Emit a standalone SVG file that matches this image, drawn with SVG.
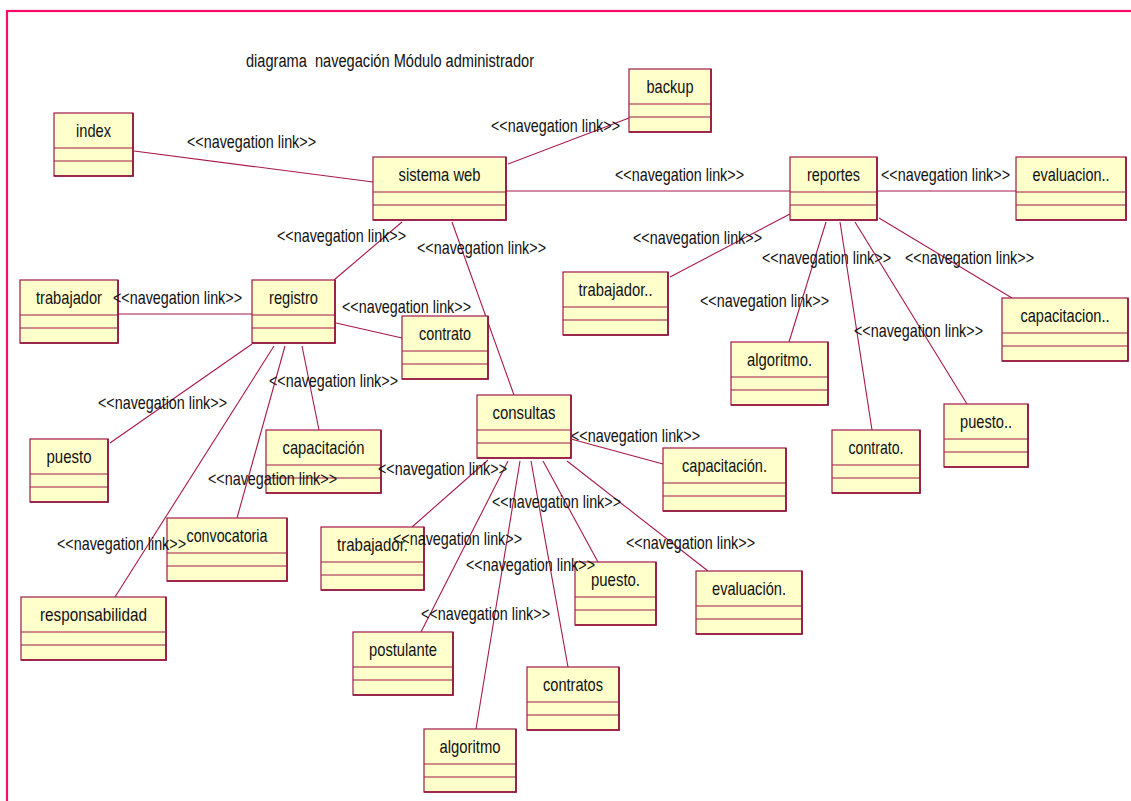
<svg xmlns="http://www.w3.org/2000/svg" width="1131" height="801" viewBox="0 0 1131 801">
  <style>
    .frame { fill: none; stroke: #FF0A6C; stroke-width: 2.2; }
    .box { fill: #FFFFCC; stroke: #A01848; stroke-width: 1.2; }
    .edge { stroke: #8E0F3A; stroke-width: 1.6; fill: none; }
    .sep { stroke: #A01848; stroke-width: 1.2; }
    .name { font-family: "Liberation Sans", Arial, sans-serif; font-size: 18.5px; fill: #111; text-anchor: middle; }
    .link { stroke: #A8184C; stroke-width: 1.1; fill: none; }
    .lbl { font-family: "Liberation Sans", Arial, sans-serif; font-size: 18.5px; fill: #111; }
    .title { font-family: "Liberation Sans", Arial, sans-serif; font-size: 18px; fill: #111; white-space: pre; }
  </style>

  <rect width="1131" height="801" fill="#FFFFFF"/>
  <rect class="frame" x="7" y="11" width="1140" height="810"/>

  <text class="title" x="246" y="67" textLength="288" lengthAdjust="spacingAndGlyphs">diagrama  navegación Módulo administrador</text>

  <!-- connectors -->
  <g id="connectors">
    <!-- sistema web -->
    <line class="link" x1="134" y1="151" x2="373" y2="182"/>
    <line class="link" x1="508" y1="164" x2="629" y2="118"/>
    <line class="link" x1="506" y1="191" x2="790" y2="191"/>
    <line class="link" x1="402" y1="222" x2="334" y2="280"/>
    <line class="link" x1="452" y1="222" x2="514" y2="395"/>
    <!-- reportes -->
    <line class="link" x1="877" y1="191" x2="1016" y2="191"/>
    <line class="link" x1="790" y1="214" x2="670" y2="277"/>
    <line class="link" x1="826" y1="222" x2="789" y2="342"/>
    <line class="link" x1="840" y1="222" x2="872" y2="430"/>
    <line class="link" x1="855" y1="222" x2="967" y2="404"/>
    <line class="link" x1="879" y1="218" x2="1012" y2="298"/>
    <!-- registro -->
    <line class="link" x1="118" y1="314" x2="252" y2="314"/>
    <line class="link" x1="336" y1="323" x2="402" y2="338"/>
    <line class="link" x1="252" y1="344" x2="110" y2="443"/>
    <line class="link" x1="274" y1="346" x2="115" y2="597"/>
    <line class="link" x1="285" y1="346" x2="237" y2="518"/>
    <line class="link" x1="302" y1="346" x2="319" y2="430"/>
    <!-- consultas -->
    <line class="link" x1="571" y1="439" x2="663" y2="464"/>
    <line class="link" x1="488" y1="460" x2="412" y2="527"/>
    <line class="link" x1="508" y1="461" x2="421" y2="632"/>
    <line class="link" x1="520" y1="461" x2="476" y2="729"/>
    <line class="link" x1="531" y1="461" x2="568" y2="667"/>
    <line class="link" x1="543" y1="461" x2="598" y2="562"/>
    <line class="link" x1="567" y1="461" x2="708" y2="571"/>
  </g>

  <!-- class boxes: name compartment (35px) + two empty compartments -->
  <g id="index">
    <rect class="box" x="54" y="113" width="79" height="63"/>
    <line class="sep" x1="54" y1="148" x2="133" y2="148"/><line class="sep" x1="54" y1="161" x2="133" y2="161"/>
    <polyline class="edge" points="54,176 133,176 133,113"/>
    <text class="name" x="93.5" y="137" textLength="35" lengthAdjust="spacingAndGlyphs">index</text>
  </g>
  <g id="sistema-web">
    <rect class="box" x="373" y="157" width="133" height="63"/>
    <line class="sep" x1="373" y1="192" x2="506" y2="192"/><line class="sep" x1="373" y1="205" x2="506" y2="205"/>
    <polyline class="edge" points="373,220 506,220 506,157"/>
    <text class="name" x="439.5" y="181" textLength="82" lengthAdjust="spacingAndGlyphs">sistema web</text>
  </g>
  <g id="backup">
    <rect class="box" x="629" y="69" width="82" height="63"/>
    <line class="sep" x1="629" y1="104" x2="711" y2="104"/><line class="sep" x1="629" y1="117" x2="711" y2="117"/>
    <polyline class="edge" points="629,132 711,132 711,69"/>
    <text class="name" x="670" y="93" textLength="47" lengthAdjust="spacingAndGlyphs">backup</text>
  </g>
  <g id="reportes">
    <rect class="box" x="790" y="157" width="87" height="63"/>
    <line class="sep" x1="790" y1="192" x2="877" y2="192"/><line class="sep" x1="790" y1="205" x2="877" y2="205"/>
    <polyline class="edge" points="790,220 877,220 877,157"/>
    <text class="name" x="833.5" y="181" textLength="53" lengthAdjust="spacingAndGlyphs">reportes</text>
  </g>
  <g id="evaluacion-reporte">
    <rect class="box" x="1016" y="157" width="110" height="63"/>
    <line class="sep" x1="1016" y1="192" x2="1126" y2="192"/><line class="sep" x1="1016" y1="205" x2="1126" y2="205"/>
    <polyline class="edge" points="1016,220 1126,220 1126,157"/>
    <text class="name" x="1071" y="181" textLength="77" lengthAdjust="spacingAndGlyphs">evaluacion..</text>
  </g>
  <g id="capacitacion-reporte">
    <rect class="box" x="1002" y="298" width="126" height="63"/>
    <line class="sep" x1="1002" y1="333" x2="1128" y2="333"/><line class="sep" x1="1002" y1="346" x2="1128" y2="346"/>
    <polyline class="edge" points="1002,361 1128,361 1128,298"/>
    <text class="name" x="1065" y="322" textLength="89" lengthAdjust="spacingAndGlyphs">capacitacion..</text>
  </g>
  <g id="trabajador-reporte">
    <rect class="box" x="563" y="272" width="105" height="63"/>
    <line class="sep" x1="563" y1="307" x2="668" y2="307"/><line class="sep" x1="563" y1="320" x2="668" y2="320"/>
    <polyline class="edge" points="563,335 668,335 668,272"/>
    <text class="name" x="615.5" y="296" textLength="74" lengthAdjust="spacingAndGlyphs">trabajador..</text>
  </g>
  <g id="algoritmo-reporte">
    <rect class="box" x="731" y="342" width="97" height="63"/>
    <line class="sep" x1="731" y1="377" x2="828" y2="377"/><line class="sep" x1="731" y1="390" x2="828" y2="390"/>
    <polyline class="edge" points="731,405 828,405 828,342"/>
    <text class="name" x="779.5" y="366" textLength="65" lengthAdjust="spacingAndGlyphs">algoritmo.</text>
  </g>
  <g id="contrato-reporte">
    <rect class="box" x="832" y="430" width="88" height="63"/>
    <line class="sep" x1="832" y1="465" x2="920" y2="465"/><line class="sep" x1="832" y1="478" x2="920" y2="478"/>
    <polyline class="edge" points="832,493 920,493 920,430"/>
    <text class="name" x="876" y="454" textLength="55" lengthAdjust="spacingAndGlyphs">contrato.</text>
  </g>
  <g id="puesto-reporte">
    <rect class="box" x="944" y="404" width="84" height="63"/>
    <line class="sep" x1="944" y1="439" x2="1028" y2="439"/><line class="sep" x1="944" y1="452" x2="1028" y2="452"/>
    <polyline class="edge" points="944,467 1028,467 1028,404"/>
    <text class="name" x="986" y="428" textLength="52" lengthAdjust="spacingAndGlyphs">puesto..</text>
  </g>
  <g id="trabajador">
    <rect class="box" x="20" y="280" width="98" height="63"/>
    <line class="sep" x1="20" y1="315" x2="118" y2="315"/><line class="sep" x1="20" y1="328" x2="118" y2="328"/>
    <polyline class="edge" points="20,343 118,343 118,280"/>
    <text class="name" x="69" y="304" textLength="66" lengthAdjust="spacingAndGlyphs">trabajador</text>
  </g>
  <g id="registro">
    <rect class="box" x="252" y="280" width="83" height="63"/>
    <line class="sep" x1="252" y1="315" x2="335" y2="315"/><line class="sep" x1="252" y1="328" x2="335" y2="328"/>
    <polyline class="edge" points="252,343 335,343 335,280"/>
    <text class="name" x="293.5" y="304" textLength="49" lengthAdjust="spacingAndGlyphs">registro</text>
  </g>
  <g id="contrato">
    <rect class="box" x="402" y="316" width="86" height="63"/>
    <line class="sep" x1="402" y1="351" x2="488" y2="351"/><line class="sep" x1="402" y1="364" x2="488" y2="364"/>
    <polyline class="edge" points="402,379 488,379 488,316"/>
    <text class="name" x="445" y="340" textLength="52" lengthAdjust="spacingAndGlyphs">contrato</text>
  </g>
  <g id="puesto">
    <rect class="box" x="30" y="439" width="78" height="63"/>
    <line class="sep" x1="30" y1="474" x2="108" y2="474"/><line class="sep" x1="30" y1="487" x2="108" y2="487"/>
    <polyline class="edge" points="30,502 108,502 108,439"/>
    <text class="name" x="69" y="463" textLength="45" lengthAdjust="spacingAndGlyphs">puesto</text>
  </g>
  <g id="capacitacion">
    <rect class="box" x="266" y="430" width="115" height="63"/>
    <line class="sep" x1="266" y1="465" x2="381" y2="465"/><line class="sep" x1="266" y1="478" x2="381" y2="478"/>
    <polyline class="edge" points="266,493 381,493 381,430"/>
    <text class="name" x="323.5" y="454" textLength="82" lengthAdjust="spacingAndGlyphs">capacitación</text>
  </g>
  <g id="convocatoria">
    <rect class="box" x="167" y="518" width="120" height="63"/>
    <line class="sep" x1="167" y1="553" x2="287" y2="553"/><line class="sep" x1="167" y1="566" x2="287" y2="566"/>
    <polyline class="edge" points="167,581 287,581 287,518"/>
    <text class="name" x="227" y="542" textLength="81" lengthAdjust="spacingAndGlyphs">convocatoria</text>
  </g>
  <g id="responsabilidad">
    <rect class="box" x="21" y="597" width="145" height="63"/>
    <line class="sep" x1="21" y1="632" x2="166" y2="632"/><line class="sep" x1="21" y1="645" x2="166" y2="645"/>
    <polyline class="edge" points="21,660 166,660 166,597"/>
    <text class="name" x="93.5" y="621" textLength="107" lengthAdjust="spacingAndGlyphs">responsabilidad</text>
  </g>
  <g id="consultas">
    <rect class="box" x="477" y="395" width="94" height="63"/>
    <line class="sep" x1="477" y1="430" x2="571" y2="430"/><line class="sep" x1="477" y1="443" x2="571" y2="443"/>
    <polyline class="edge" points="477,458 571,458 571,395"/>
    <text class="name" x="524" y="419" textLength="63" lengthAdjust="spacingAndGlyphs">consultas</text>
  </g>
  <g id="capacitacion-consulta">
    <rect class="box" x="663" y="448" width="123" height="63"/>
    <line class="sep" x1="663" y1="483" x2="786" y2="483"/><line class="sep" x1="663" y1="496" x2="786" y2="496"/>
    <polyline class="edge" points="663,511 786,511 786,448"/>
    <text class="name" x="724.5" y="472" textLength="85" lengthAdjust="spacingAndGlyphs">capacitación.</text>
  </g>
  <g id="trabajador-consulta">
    <rect class="box" x="321" y="527" width="103" height="63"/>
    <line class="sep" x1="321" y1="562" x2="424" y2="562"/><line class="sep" x1="321" y1="575" x2="424" y2="575"/>
    <polyline class="edge" points="321,590 424,590 424,527"/>
    <text class="name" x="372.5" y="551" textLength="71" lengthAdjust="spacingAndGlyphs">trabajador.</text>
  </g>
  <g id="puesto-consulta">
    <rect class="box" x="575" y="562" width="81" height="63"/>
    <line class="sep" x1="575" y1="597" x2="656" y2="597"/><line class="sep" x1="575" y1="610" x2="656" y2="610"/>
    <polyline class="edge" points="575,625 656,625 656,562"/>
    <text class="name" x="615.5" y="586" textLength="49" lengthAdjust="spacingAndGlyphs">puesto.</text>
  </g>
  <g id="evaluacion-consulta">
    <rect class="box" x="696" y="571" width="106" height="63"/>
    <line class="sep" x1="696" y1="606" x2="802" y2="606"/><line class="sep" x1="696" y1="619" x2="802" y2="619"/>
    <polyline class="edge" points="696,634 802,634 802,571"/>
    <text class="name" x="749" y="595" textLength="74" lengthAdjust="spacingAndGlyphs">evaluación.</text>
  </g>
  <g id="postulante">
    <rect class="box" x="353" y="632" width="100" height="63"/>
    <line class="sep" x1="353" y1="667" x2="453" y2="667"/><line class="sep" x1="353" y1="680" x2="453" y2="680"/>
    <polyline class="edge" points="353,695 453,695 453,632"/>
    <text class="name" x="403" y="656" textLength="68" lengthAdjust="spacingAndGlyphs">postulante</text>
  </g>
  <g id="contratos">
    <rect class="box" x="527" y="667" width="92" height="63"/>
    <line class="sep" x1="527" y1="702" x2="619" y2="702"/><line class="sep" x1="527" y1="715" x2="619" y2="715"/>
    <polyline class="edge" points="527,730 619,730 619,667"/>
    <text class="name" x="573" y="691" textLength="60" lengthAdjust="spacingAndGlyphs">contratos</text>
  </g>
  <g id="algoritmo">
    <rect class="box" x="424" y="729" width="92" height="63"/>
    <line class="sep" x1="424" y1="764" x2="516" y2="764"/><line class="sep" x1="424" y1="777" x2="516" y2="777"/>
    <polyline class="edge" points="424,792 516,792 516,729"/>
    <text class="name" x="470" y="753" textLength="61" lengthAdjust="spacingAndGlyphs">algoritmo</text>
  </g>

  <!-- connector labels, drawn above the boxes -->
  <g id="connector-labels">
    <text class="lbl" x="187" y="148" textLength="129" lengthAdjust="spacingAndGlyphs">&lt;&lt;navegation link&gt;&gt;</text>
    <text class="lbl" x="491" y="132" textLength="129" lengthAdjust="spacingAndGlyphs">&lt;&lt;navegation link&gt;&gt;</text>
    <text class="lbl" x="615" y="181" textLength="129" lengthAdjust="spacingAndGlyphs">&lt;&lt;navegation link&gt;&gt;</text>
    <text class="lbl" x="277" y="242" textLength="129" lengthAdjust="spacingAndGlyphs">&lt;&lt;navegation link&gt;&gt;</text>
    <text class="lbl" x="417" y="254" textLength="129" lengthAdjust="spacingAndGlyphs">&lt;&lt;navegation link&gt;&gt;</text>
    <text class="lbl" x="881" y="181" textLength="129" lengthAdjust="spacingAndGlyphs">&lt;&lt;navegation link&gt;&gt;</text>
    <text class="lbl" x="633" y="244" textLength="129" lengthAdjust="spacingAndGlyphs">&lt;&lt;navegation link&gt;&gt;</text>
    <text class="lbl" x="762" y="264" textLength="129" lengthAdjust="spacingAndGlyphs">&lt;&lt;navegation link&gt;&gt;</text>
    <text class="lbl" x="905" y="264" textLength="129" lengthAdjust="spacingAndGlyphs">&lt;&lt;navegation link&gt;&gt;</text>
    <text class="lbl" x="700" y="307" textLength="129" lengthAdjust="spacingAndGlyphs">&lt;&lt;navegation link&gt;&gt;</text>
    <text class="lbl" x="854" y="337" textLength="129" lengthAdjust="spacingAndGlyphs">&lt;&lt;navegation link&gt;&gt;</text>
    <text class="lbl" x="113" y="304" textLength="129" lengthAdjust="spacingAndGlyphs">&lt;&lt;navegation link&gt;&gt;</text>
    <text class="lbl" x="342" y="313" textLength="129" lengthAdjust="spacingAndGlyphs">&lt;&lt;navegation link&gt;&gt;</text>
    <text class="lbl" x="269" y="387" textLength="129" lengthAdjust="spacingAndGlyphs">&lt;&lt;navegation link&gt;&gt;</text>
    <text class="lbl" x="98" y="409" textLength="129" lengthAdjust="spacingAndGlyphs">&lt;&lt;navegation link&gt;&gt;</text>
    <text class="lbl" x="208" y="485" textLength="129" lengthAdjust="spacingAndGlyphs">&lt;&lt;navegation link&gt;&gt;</text>
    <text class="lbl" x="378" y="475" textLength="129" lengthAdjust="spacingAndGlyphs">&lt;&lt;navegation link&gt;&gt;</text>
    <text class="lbl" x="57" y="550" textLength="129" lengthAdjust="spacingAndGlyphs">&lt;&lt;navegation link&gt;&gt;</text>
    <text class="lbl" x="571" y="442" textLength="129" lengthAdjust="spacingAndGlyphs">&lt;&lt;navegation link&gt;&gt;</text>
    <text class="lbl" x="492" y="508" textLength="129" lengthAdjust="spacingAndGlyphs">&lt;&lt;navegation link&gt;&gt;</text>
    <text class="lbl" x="393" y="545" textLength="129" lengthAdjust="spacingAndGlyphs">&lt;&lt;navegation link&gt;&gt;</text>
    <text class="lbl" x="466" y="571" textLength="129" lengthAdjust="spacingAndGlyphs">&lt;&lt;navegation link&gt;&gt;</text>
    <text class="lbl" x="626" y="549" textLength="129" lengthAdjust="spacingAndGlyphs">&lt;&lt;navegation link&gt;&gt;</text>
    <text class="lbl" x="421" y="620" textLength="129" lengthAdjust="spacingAndGlyphs">&lt;&lt;navegation link&gt;&gt;</text>
  </g>
</svg>
